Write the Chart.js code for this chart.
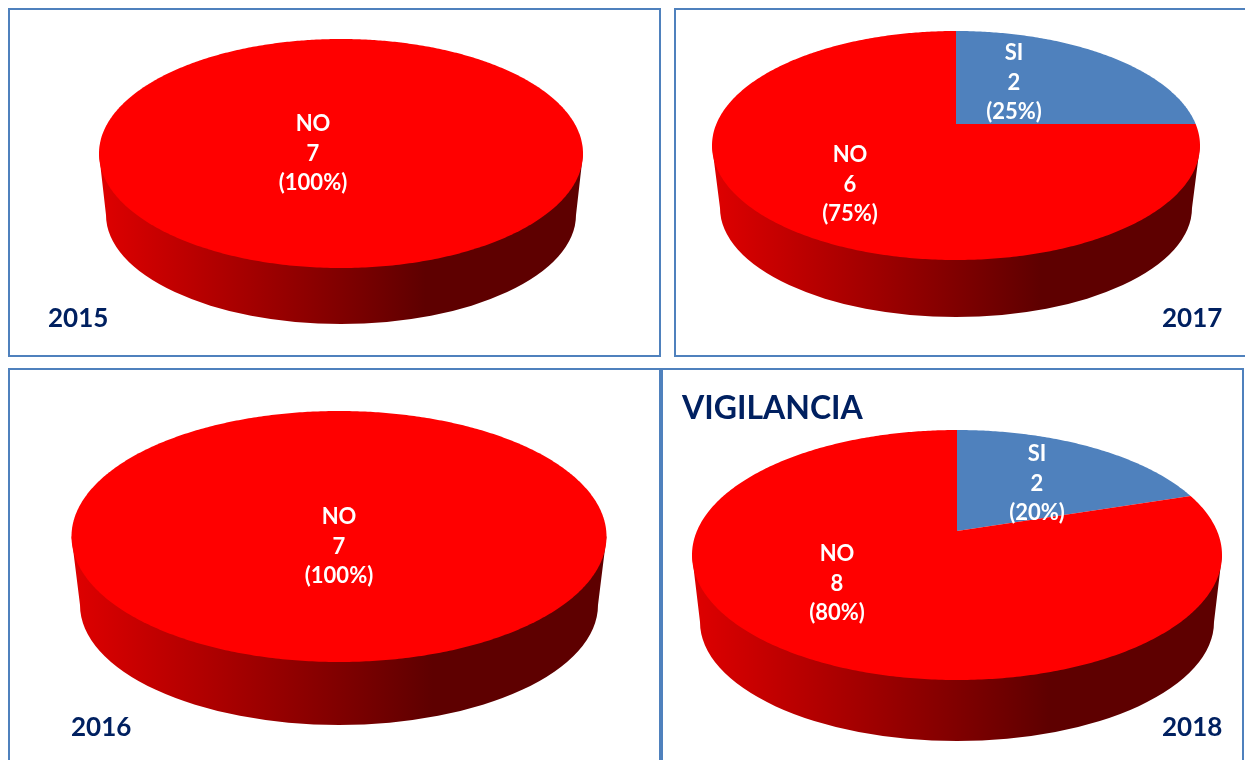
<!DOCTYPE html>
<html>
<head>
<meta charset="utf-8">
<script src="https://cdn.jsdelivr.net/npm/chart.js@4"></script>
<style>
  html, body { margin: 0; padding: 0; background: #fff; overflow: hidden; width: 1245px; height: 760px; }
  body { position: relative; font-family: Lato, sans-serif; }
  .panel { position: absolute; box-sizing: border-box; border: 2px solid #4f81bd; overflow: hidden; }
  .panel canvas { position: absolute; left: -2px; top: -2px; }
  .tag { position: absolute; font-weight: 700; color: #002060; white-space: nowrap; line-height: 1; }
  .year { font-size: 26px; }
  #title { font-size: 32px; left: 682px; top: 391px; }
</style>
</head>
<body>
<div class="panel" style="left:8px;top:8px;width:653px;height:349px"><canvas id="c2015"></canvas></div>
<div class="panel" style="left:674px;top:8px;width:590px;height:349px"><canvas id="c2017"></canvas></div>
<div class="panel" style="left:8px;top:368px;width:653px;height:420px"><canvas id="c2016"></canvas></div>
<div class="panel" style="left:661px;top:368px;width:583px;height:420px"><canvas id="c2018"></canvas></div>
<div class="tag year" style="left:48px;top:304px">2015</div>
<div class="tag year" style="left:1162px;top:304px">2017</div>
<div class="tag year" style="left:71px;top:713px">2016</div>
<div class="tag year" style="left:1162px;top:713px">2018</div>
<div class="tag" id="title">VIGILANCIA</div>
<script>
const categories2015 = ['NO'];
const values2015 = [7];
const categories2016 = ['NO'];
const values2016 = [7];
const categories2017 = ['SI', 'NO'];
const values2017 = [2, 6];
const categories2018 = ['SI', 'NO'];
const values2018 = [2, 8];

const RED = '#ff0000';
const BLUE = '#4f81bd';
const colorOf = { SI: BLUE, NO: RED };

// page geometry of each pie: top face box, where the centre lands, bottom ellipse, label anchors
const layout = {
  c2015: { box: [8, 8, 653, 349], cx: 341, rx: 242, top: 39, bottom: 268, yc: 125, rx2: 235, ry2: 109, low: 324, anchors: { NO: [313, 153] } },
  c2016: { box: [8, 368, 653, 420], cx: 339, rx: 267.5, top: 411, bottom: 662, yc: 521, rx2: 259, ry2: 120, low: 725, anchors: { NO: [339, 546] } },
  c2017: { box: [674, 8, 590, 349], cx: 956, rx: 244, top: 31, bottom: 260, yc: 124, rx2: 236, ry2: 109, low: 317, anchors: { SI: [1014, 82], NO: [850, 184] } },
  c2018: { box: [661, 368, 583, 420], cx: 957, rx: 265, top: 430, bottom: 680, yc: 531, rx2: 257, ry2: 119, low: 741, anchors: { SI: [1037, 483], NO: [837, 583] } }
};

// tilted disc: circle angle -> page point, with the far half squeezed
function projector(g) {
  const up = g.yc - g.top, down = g.bottom - g.yc;
  const p = (down - up) / (down + up);
  const b = up * (1 + p);
  const w = g.rx * Math.sqrt(1 - p * p);
  return a => {
    const u = Math.cos(a), v = -Math.sin(a), d = 1 + p * v;
    return [g.cx + w * u / d, g.yc - b * v / d];
  };
}

const discPlugin = {
  id: 'disc',
  beforeDatasetsDraw(chart) {
    const g = layout[chart.canvas.id];
    const ctx = chart.ctx;
    const project = projector(g);
    const ymid = (g.top + g.bottom) / 2;
    const cy2 = g.low - g.ry2;

    ctx.save();
    ctx.translate(-g.box[0], -g.box[1]);

    // side wall
    const grad = ctx.createLinearGradient(g.cx - g.rx2, 0, g.cx + g.rx2, 0);
    grad.addColorStop(0, '#dc0000');
    grad.addColorStop(0.5, '#800000');
    grad.addColorStop(0.68, '#5e0000');
    grad.addColorStop(1, '#5e0000');
    ctx.beginPath();
    ctx.moveTo(g.cx - g.rx, ymid);
    ctx.lineTo(g.cx - g.rx2, cy2);
    ctx.ellipse(g.cx, cy2, g.rx2, g.ry2, 0, Math.PI, 0, true);
    ctx.lineTo(g.cx + g.rx, ymid);
    ctx.closePath();
    ctx.fillStyle = grad;
    ctx.fill();

    // top face, one path per arc of the pie
    chart.getDatasetMeta(0).data.forEach(arc => {
      const sweep = arc.endAngle - arc.startAngle;
      const steps = Math.max(8, Math.ceil(sweep * 90));
      ctx.beginPath();
      if (sweep < Math.PI * 2 - 0.001) ctx.moveTo(g.cx, g.yc);
      for (let i = 0; i <= steps; i++) {
        const pt = project(arc.startAngle + sweep * i / steps);
        ctx.lineTo(pt[0], pt[1]);
      }
      ctx.closePath();
      ctx.fillStyle = arc.options.backgroundColor;
      ctx.fill();
    });

    ctx.restore();
    return false;
  },
  // afterDatasetsDraw does not fire once the hook above cancels
  afterDraw(chart) {
    const g = layout[chart.canvas.id];
    const ctx = chart.ctx;
    const labels = chart.data.labels;
    const vals = chart.data.datasets[0].data;
    const total = vals.reduce((a, b) => a + b, 0);
    ctx.save();
    ctx.translate(-g.box[0], -g.box[1]);
    ctx.font = '700 22px Lato, sans-serif';
    ctx.fillStyle = '#fff';
    ctx.textAlign = 'center';
    ctx.textBaseline = 'middle';
    labels.forEach((name, i) => {
      const a = g.anchors[name];
      const pct = Math.round(vals[i] / total * 100);
      ctx.fillText(name, a[0], a[1] - 29);
      ctx.fillText(String(vals[i]), a[0], a[1] + 0.5);
      ctx.fillText('(' + pct + '%)', a[0], a[1] + 30);
    });
    ctx.restore();
  }
};

function makePie(id, categories, values) {
  const el = document.getElementById(id);
  el.width = layout[id].box[2];
  el.height = layout[id].box[3];
  new Chart(el, {
    type: 'pie',
    data: {
      labels: categories,
      datasets: [{ data: values, backgroundColor: categories.map(c => colorOf[c]), borderWidth: 0 }]
    },
    options: {
      responsive: false,
      animation: false,
      devicePixelRatio: 1,
      plugins: { legend: { display: false }, tooltip: { enabled: false } }
    },
    plugins: [discPlugin]
  });
}

makePie('c2015', categories2015, values2015);
makePie('c2016', categories2016, values2016);
makePie('c2017', categories2017, values2017);
makePie('c2018', categories2018, values2018);
</script>
</body>
</html>
